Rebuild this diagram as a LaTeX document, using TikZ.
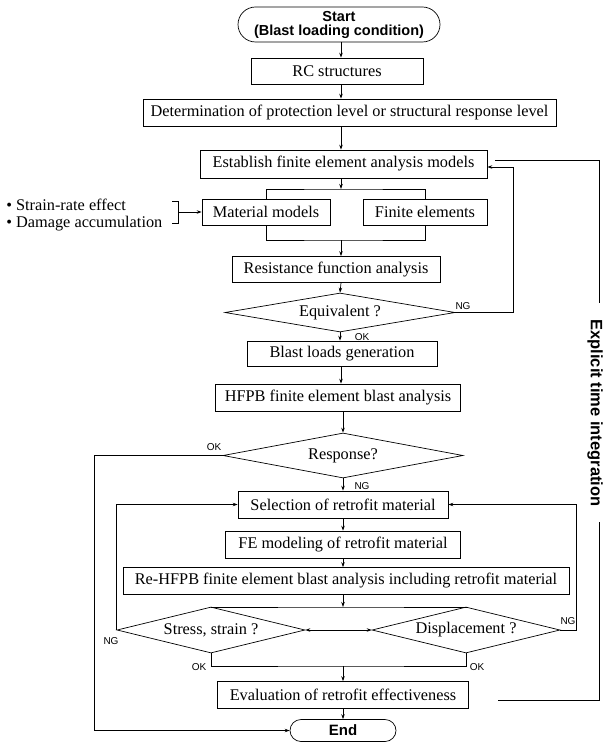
\documentclass[tikz,border=0pt]{standalone}
\usepackage{fontspec}
\setmainfont{Liberation Serif}
\newfontfamily\sansf{Liberation Sans}
\usetikzlibrary{shapes.geometric,shapes.misc,arrows.meta}
\begin{document}
\begin{tikzpicture}[x=1pt,y=-1pt,
  line width=0.7pt,
  txt/.style={font=\fontsize{16.3}{18}\selectfont},
  box/.style={draw, rectangle, inner sep=0pt, txt},
  term/.style={draw, rounded rectangle, inner sep=0pt, align=center,
    font=\sansf\bfseries\fontsize{14.5}{14}\selectfont},
  dia/.style={draw, diamond, inner sep=0pt, txt},
  arr/.style={-{Stealth[length=5pt,width=3.5pt]}},
  biarr/.style={{Stealth[length=5pt,width=3.5pt]}-{Stealth[length=5pt,width=3.5pt]}},
  lab/.style={font=\sansf\fontsize{10}{10}\selectfont, inner sep=1pt}
]
\useasboundingbox (0,0) rectangle (604,743);
\coordinate (col) at (341,0);

% nodes
\node[term, minimum width=202, minimum height=35] (start) at (339,24.5) {Start\\(Blast loading condition)};
\node[box, minimum width=172, minimum height=26] (rc) at (337,71) {RC structures};
\node[box, minimum width=413, minimum height=27] (det) at (349.5,112.5) {Determination of protection level or structural response level};
\node[box, minimum width=287, minimum height=28] (est) at (343.5,164) {Establish finite element analysis models};
\node[box, minimum width=128, minimum height=26] (mat) at (266,212) {Material models};
\node[box, minimum width=124, minimum height=26] (fin) at (425,212) {Finite elements};
\node[box, minimum width=208, minimum height=26] (res) at (336,269.5) {Resistance function analysis};
\node[dia, minimum width=230, minimum height=39, aspect=5.9] (equ) at (340,312.5) {Equivalent ?};
\node[box, minimum width=190, minimum height=25] (blast) at (342,353.5) {Blast loads generation};
\node[box, minimum width=245, minimum height=27] (hfpb) at (338,397.5) {HFPB finite element blast analysis};
\node[dia, minimum width=240, minimum height=45, aspect=5.3] (resp) at (343,455.5) {Response?};
\node[box, minimum width=210, minimum height=27] (sel) at (343,504.5) {Selection of retrofit material};
\node[box, minimum width=235, minimum height=27] (fem) at (343,544.5) {FE modeling of retrofit material};
\node[box, minimum width=446, minimum height=27] (reh) at (346,581) {Re-HFPB finite element blast analysis including retrofit material};
\node[dia, minimum width=188, minimum height=46, aspect=4.1] (str) at (211,630) {Stress, strain ?};
\node[dia, minimum width=188, minimum height=46, aspect=4.1] (dis) at (466,630) {Displacement ?};
\node[box, minimum width=251, minimum height=27] (eva) at (343,695) {Evaluation of retrofit effectiveness};
\node[term, minimum width=106, minimum height=22, font=\sansf\bfseries\fontsize{15}{15}\selectfont] (end) at (343,730.5) {End};

% side text
\node[txt, anchor=west, inner sep=0pt] (b1) at (6,205) {\textbullet\ Strain-rate effect};
\node[txt, anchor=west, inner sep=0pt] (b2) at (6,224) {\textbullet\ Damage accumulation};
\coordinate (brk) at (178,212);
\draw (172,201) -- (178,201) -- (178,223) -- (172,223);
\draw[arr] (brk) -- (brk -| mat.west);

% main column
\draw[arr] (start.south -| col) -- (rc.north -| col);
\draw[arr] (rc.south -| col) -- (det.north -| col);
\draw[arr] (det.south -| col) -- (est.north -| col);
\coordinate (sp1) at (341,189);
\draw[arr] (est.south -| col) -- (sp1);
\draw (mat.north) |- (sp1) -| (fin.north);
\coordinate (mg1) at (341,240);
\draw (mat.south) |- (mg1) -| (fin.south);
\draw[arr] (mg1) -- (res.north -| col);
\draw[arr] (res.south -| col) -- (equ.north);
\draw[arr] (equ.south) -- (blast.north -| equ.south);
\draw[arr] (blast.south -| col) -- (hfpb.north -| col);
\draw[arr] (hfpb.south -| resp.north) -- (resp.north);
\draw[arr] (resp.south) -- (sel.north -| resp.south);
\draw[arr] (sel.south) -- (fem.north);
\draw[arr] (fem.south) -- (reh.north -| fem.south);
\coordinate (sp2) at (343,607);
\draw[arr] (reh.south -| sp2) -- (sp2);
\draw (str.north) |- (sp2) -| (dis.north);
\draw[biarr] (str.east) -- (dis.west);
\coordinate (mg2) at (343,666);
\draw (str.south) |- (mg2) -| (dis.south);
\draw[arr] (mg2) -- (eva.north);
\draw[arr] (eva.south) -- (end.north);

% loops
\coordinate (ng1) at (513,312.5);
\coordinate (estin) at (513,167);
\draw[arr] (equ.east) -- (ng1) -- (estin) -- (estin -| est.east);
\coordinate (ok1) at (94,455.5);
\draw[arr] (resp.west) -- (ok1) |- (end.west);
\draw[arr] (str.west) |- (sel.west);
\coordinate (ngR) at (576,630);
\draw[arr] (dis.east) -- (ngR) |- (sel.east);

% labels
\node[lab] at (463,306) {NG};
\node[lab] at (362,337) {OK};
\node[lab] at (214,447) {OK};
\node[lab] at (362,486) {NG};
\node[lab] at (111,641) {NG};
\node[lab] at (568,621) {NG};
\node[lab] at (199,667) {OK};
\node[lab] at (477,667) {OK};

% explicit time integration bracket
\draw (495,160) -- (599,160) -- (599,303);
\draw (599,522) -- (599,700) -- (498,700);
\node[rotate=-90, font=\sansf\bfseries\fontsize{16.5}{16}\selectfont] (eti) at (595,413) {Explicit time integration};
\end{tikzpicture}
\end{document}
